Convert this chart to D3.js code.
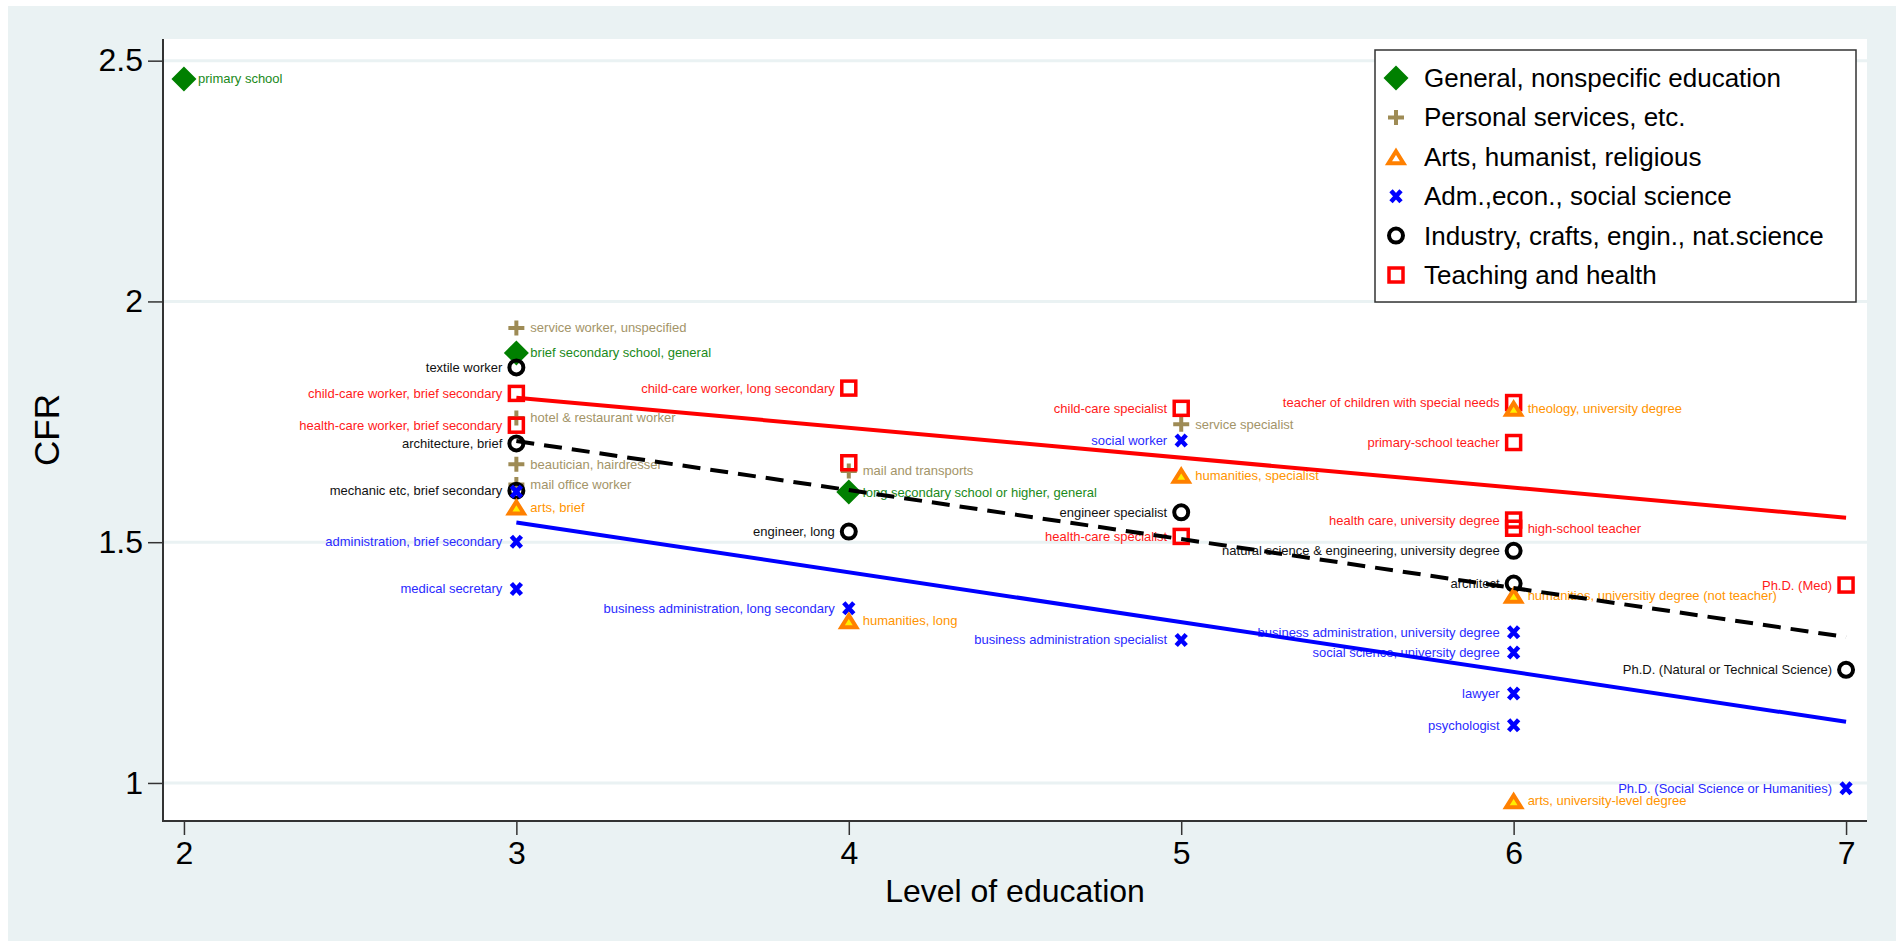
<!DOCTYPE html>
<html>
<head>
<meta charset="utf-8">
<script src="https://cdn.jsdelivr.net/npm/d3@7"></script>
<style>
    body { margin: 0; background: #ffffff; }
    text { font-family: "Liberation Sans", Arial, sans-serif; }
</style>
</head>
<body>
<svg id="chart"></svg>
<script>
// [level of education, CFR, label]
const general = [
    [2, 2.462, "primary school"],
    [3, 1.893, "brief secondary school, general"],
    [4, 1.604, "long secondary school or higher, general"]
];
const personal = [
    [3, 1.945, "service worker, unspecified"],
    [3, 1.758, "hotel & restaurant worker"],
    [3, 1.662, "beautician, hairdresser"],
    [3, 1.620, "mail office worker"],
    [4, 1.648, "mail and transports"],
    [5, 1.745, "service specialist"]
];
const arts = [
    [3, 1.573, "arts, brief"],
    [4, 1.337, "humanities, long"],
    [5, 1.639, "humanities, specialist"],
    [6, 1.778, "theology, university degree"],
    [6, 1.390, "humanities, universitiy degree (not teacher)"],
    [6, 0.963, "arts, university-level degree"]
];
const adm = [
    [3, 1.605, ""],
    [3, 1.501, "administration, brief secondary"],
    [3, 1.403, "medical secretary"],
    [4, 1.363, "business administration, long secondary"],
    [5, 1.711, "social worker"],
    [5, 1.297, "business administration specialist"],
    [6, 1.313, "business administration, university degree"],
    [6, 1.271, "social science, university degree"],
    [6, 1.186, "lawyer"],
    [6, 1.120, "psychologist"],
    [7, 0.989, "Ph.D. (Social Science or Humanities)"]
];
const industry = [
    [3, 1.863, "textile worker"],
    [3, 1.705, "architecture, brief"],
    [3, 1.607, "mechanic etc, brief secondary"],
    [4, 1.522, "engineer, long"],
    [5, 1.562, "engineer specialist"],
    [6, 1.482, "natural science & engineering, university degree"],
    [6, 1.414, "architect"],
    [7, 1.235, "Ph.D. (Natural or Technical Science)"]
];
const teaching = [
    [3, 1.809, "child-care worker, brief secondary"],
    [3, 1.743, "health-care worker, brief secondary"],
    [4, 1.820, "child-care worker, long secondary"],
    [4, 1.665, ""],
    [5, 1.778, "child-care specialist"],
    [5, 1.512, "health-care specialist"],
    [6, 1.790, "teacher of children with special needs"],
    [6, 1.707, "primary-school teacher"],
    [6, 1.546, "health care, university degree"],
    [6, 1.529, "high-school teacher"],
    [7, 1.411, "Ph.D. (Med)"]
];

// fitted values of the linear fits at both ends
const fitX = [3, 7];
const fitTeaching = [1.800, 1.551];
const fitIndustry = [1.710, 1.303];
const fitAdm = [1.541, 1.127];

const xTicks = [2, 3, 4, 5, 6, 7];
const yTicks = [1, 1.5, 2, 2.5];
const legendLabels = [
    "General, nonspecific education",
    "Personal services, etc.",
    "Arts, humanist, religious",
    "Adm.,econ., social science",
    "Industry, crafts, engin., nat.science",
    "Teaching and health"
];
const extraRightLabels = ["high-school teacher"];

function createChart() {
    const width = 1896;
    const height = 944;
    const plot = { left: 163, right: 1867, top: 39, bottom: 821 };
    const bg = "#eaf2f3";

    const svg = d3.select("#chart")
        .attr("width", width)
        .attr("height", height);

    // outer graph region and white plot region
    svg.append("rect")
        .attr("x", 8).attr("y", 6)
        .attr("width", width - 8).attr("height", 935)
        .attr("fill", bg);
    svg.append("rect")
        .attr("x", plot.left).attr("y", plot.top)
        .attr("width", plot.right - plot.left).attr("height", plot.bottom - plot.top)
        .attr("fill", "#ffffff");

    const xScale = d3.scaleLinear()
        .domain([1.937, 7.063])
        .range([plot.left, plot.right]);
    const yScale = d3.scaleLinear()
        .domain([0.921, 2.545])
        .range([plot.bottom, plot.top]);

    // grid lines
    svg.append("g")
        .selectAll("line")
        .data(yTicks)
        .enter()
        .append("line")
        .attr("x1", plot.left).attr("x2", plot.right)
        .attr("y1", d => yScale(d)).attr("y2", d => yScale(d))
        .attr("stroke", bg)
        .attr("stroke-width", 3);

    // axes
    const xAxis = d3.axisBottom(xScale).tickValues(xTicks).tickSize(14).tickPadding(6)
        .tickFormat(d3.format("d"));
    const yAxis = d3.axisLeft(yScale).tickValues(yTicks).tickSize(15).tickPadding(5)
        .tickFormat(d3.format("~g"));

    const gx = svg.append("g")
        .attr("transform", `translate(0, ${plot.bottom})`)
        .call(xAxis);
    const gy = svg.append("g")
        .attr("transform", `translate(${plot.left}, 0)`)
        .call(yAxis);

    [gx, gy].forEach(g => {
        g.select(".domain").remove();
        g.selectAll(".tick line").attr("stroke", "#333333").attr("stroke-width", 1.5);
        g.selectAll(".tick text")
            .attr("fill", "#000000")
            .style("font-size", "32px");
    });

    svg.append("line")
        .attr("x1", plot.left).attr("x2", plot.left)
        .attr("y1", plot.top).attr("y2", plot.bottom + 1)
        .attr("stroke", "#333333").attr("stroke-width", 2);
    svg.append("line")
        .attr("x1", plot.left - 1).attr("x2", plot.right)
        .attr("y1", plot.bottom).attr("y2", plot.bottom)
        .attr("stroke", "#333333").attr("stroke-width", 2);

    // axis titles
    svg.append("text")
        .attr("x", (plot.left + plot.right) / 2)
        .attr("y", 902)
        .attr("text-anchor", "middle")
        .style("font-size", "32px")
        .text("Level of education");

    svg.append("text")
        .attr("transform", `translate(59, ${(plot.top + plot.bottom) / 2}) rotate(-90)`)
        .attr("text-anchor", "middle")
        .style("font-size", "35px")
        .text("CFR");

    // marker styles
    const styles = {
        general: { mark: "#008000", text: "#1a8a1a", legend: 0 },
        personal: { mark: "#9e8b55", text: "#a39468", legend: 1 },
        arts: { mark: "#ff8000", text: "#ff9400", legend: 2 },
        adm: { mark: "#0000ff", text: "#2a2aff", legend: 3 },
        industry: { mark: "#000000", text: "#111111", legend: 4 },
        teaching: { mark: "#ff0000", text: "#ff1a1a", legend: 5 }
    };

    function drawMarker(g, key, inLegend) {
        const c = styles[key].mark;
        if (key === "general") {
            g.append("path").attr("d", "M0,-12.5L12.5,0L0,12.5L-12.5,0Z").attr("fill", c);
        } else if (key === "personal") {
            g.append("path").attr("d", "M-8,0H8M0,-7.5V7.5")
                .attr("stroke", c).attr("stroke-width", 4).attr("fill", "none");
        } else if (key === "arts") {
            g.append("path").attr("d", "M0,-5.5L7.5,6.5L-7.5,6.5Z")
                .attr("stroke", c).attr("stroke-width", 4)
                .attr("fill", inLegend ? "#ffffff" : "#ffee00");
        } else if (key === "adm") {
            g.append("path").attr("d", "M-5,-5.5L5,5.5M-5,5.5L5,-5.5")
                .attr("stroke", c).attr("stroke-width", 4.5).attr("fill", "none");
        } else if (key === "industry") {
            g.append("circle").attr("r", 7)
                .attr("stroke", c).attr("stroke-width", 4).attr("fill", "none");
        } else {
            g.append("rect").attr("x", -7).attr("y", -7).attr("width", 14).attr("height", 14)
                .attr("stroke", c).attr("stroke-width", 3.5).attr("fill", "none");
        }
    }

    const series = [
        ["personal", personal],
        ["general", general],
        ["teaching", teaching],
        ["industry", industry],
        ["adm", adm],
        ["arts", arts]
    ];
    const rightSide = ["general", "personal", "arts"];

    series.forEach(([key, rows]) => {
        const grp = svg.append("g").attr("class", "series-" + key);
        rows.forEach(d => {
            const m = grp.append("g")
                .attr("transform", `translate(${xScale(d[0])}, ${yScale(d[1])})`);
            drawMarker(m, key, false);
        });
        grp.selectAll("text")
            .data(rows.filter(d => d[2] !== ""))
            .enter()
            .append("text")
            .each(function (d) {
                const right = rightSide.includes(key) || extraRightLabels.includes(d[2]);
                d3.select(this)
                    .attr("x", xScale(d[0]) + (right ? 14 : -14))
                    .attr("text-anchor", right ? "start" : "end");
            })
            .attr("y", d => yScale(d[1]))
            .attr("dominant-baseline", "central")
            .attr("fill", styles[key].text)
            .style("font-size", "13px")
            .text(d => d[2]);
    });

    // linear fits
    const line = d3.line()
        .x(d => xScale(d[0]))
        .y(d => yScale(d[1]));
    const fits = [
        [fitTeaching, "#ff0000", null],
        [fitIndustry, "#000000", "18,10"],
        [fitAdm, "#0000ff", null]
    ];
    fits.forEach(([vals, color, dash]) => {
        svg.append("path")
            .datum(fitX.map((x, i) => [x, vals[i]]))
            .attr("d", line)
            .attr("fill", "none")
            .attr("stroke", color)
            .attr("stroke-width", 4)
            .attr("stroke-dasharray", dash);
    });

    // legend
    const legend = svg.append("g").attr("transform", "translate(1375, 50)");
    legend.append("rect")
        .attr("width", 481).attr("height", 252)
        .attr("fill", "#ffffff")
        .attr("stroke", "#333333").attr("stroke-width", 1.5);

    const keys = ["general", "personal", "arts", "adm", "industry", "teaching"];
    const item = legend.selectAll(".legend")
        .data(keys)
        .enter()
        .append("g")
        .attr("class", "legend")
        .attr("transform", (d, i) => `translate(21, ${28 + i * 39.4})`);

    item.each(function (d) { drawMarker(d3.select(this), d, true); });

    item.append("text")
        .attr("x", 28)
        .attr("dominant-baseline", "central")
        .style("font-size", "26px")
        .text(d => legendLabels[styles[d].legend]);
}

createChart();
</script>
</body>
</html>
